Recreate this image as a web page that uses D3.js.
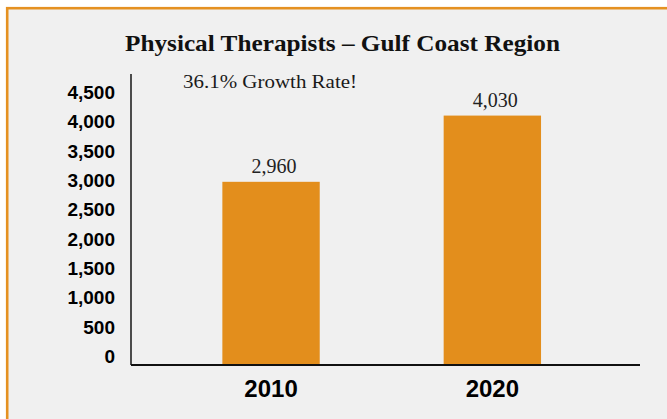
<!DOCTYPE html>
<html>
<head>
<meta charset="utf-8">
<script src="https://cdn.jsdelivr.net/npm/d3@7"></script>
<style>
  html, body { margin: 0; padding: 0; background: #ffffff; }
  svg { display: block; }
</style>
</head>
<body>
<div id="chart-area"></div>
<script>
// chart data
let chartTitle = "Physical Therapists \u2013 Gulf Coast Region";
let growthNote = "36.1% Growth Rate!";
let years = ["2010", "2020"];
let therapists = [2960, 4030];
let tickValues = [0, 500, 1000, 1500, 2000, 2500, 3000, 3500, 4000, 4500];

let width = 667,
	height = 419;

let margin = {top: 86.5, bottom: 365, left: 131, right: 640};

let svg = d3.select("#chart-area").append("svg")
	.attr("width", width)
	.attr("height", height);

// orange frame (runs past the right / bottom edges)
svg.append("rect")
	.attr("x", 7.2)
	.attr("y", 8.2)
	.attr("width", width + 20)
	.attr("height", height + 20)
	.attr("fill", "#f0f0f0")
	.attr("stroke", "#e59121")
	.attr("stroke-width", 2.6);

let xScale = d3.scaleBand()
	.domain(years)
	.range([margin.left, margin.right])
	.paddingInner(0.56)
	.paddingOuter(0.43)
	.align(0.48);

let yScale = d3.scaleLinear()
	.domain([0, 4500])
	.range([margin.bottom, margin.top]);

// tick labels sit on their own evenly spaced rows
let labelScale = d3.scaleLinear()
	.domain([0, 4500])
	.range([355.5, 91.7]);

// bars
svg.selectAll("rect.bar")
	.data(therapists)
	.enter()
	.append("rect")
	.attr("class", "bar")
	.attr("fill", "#e38e1c")
	.attr("x", (d, i) => xScale(years[i]))
	.attr("width", xScale.bandwidth())
	.attr("y", d => yScale(d))
	.attr("height", d => yScale(0) - yScale(d));

// value labels
svg.selectAll("text.value")
	.data(therapists)
	.enter()
	.append("text")
	.attr("class", "value")
	.attr("x", (d, i) => xScale(years[i]) + xScale.bandwidth() / 2 + 3)
	.attr("y", d => yScale(d) - 9)
	.attr("text-anchor", "middle")
	.style("font-family", "'Liberation Serif', 'DejaVu Serif', serif")
	.style("font-size", "20px")
	.style("fill", "#222")
	.text(d => d3.format(",")(d));

// y tick labels
let yaxis = d3.axisLeft()
	.scale(labelScale)
	.tickValues(tickValues)
	.tickSize(0)
	.tickPadding(0)
	.tickFormat(d3.format(","));

let yAxisG = svg.append("g")
	.attr("class", "y-axis axis")
	.attr("transform", "translate(115,0)")
	.call(yaxis);
yAxisG.select(".domain").remove();
yAxisG.selectAll("text")
	.attr("dy", "0.36em")
	.style("font-family", "'Liberation Sans', Arial, sans-serif")
	.style("font-weight", "bold")
	.style("font-size", "19px")
	.style("fill", "#000");

// x category labels
let xaxis = d3.axisBottom()
	.scale(xScale)
	.tickSize(0)
	.tickPadding(0);

let xAxisG = svg.append("g")
	.attr("class", "x-axis axis")
	.attr("transform", "translate(0," + margin.bottom + ")")
	.call(xaxis);
xAxisG.select(".domain").remove();
xAxisG.selectAll("text")
	.attr("y", 32)
	.attr("dy", 0)
	.style("font-family", "'Liberation Sans', Arial, sans-serif")
	.style("font-weight", "bold")
	.style("font-size", "24px")
	.style("fill", "#000");

// axis lines
svg.append("line")
	.attr("x1", margin.left).attr("x2", margin.left)
	.attr("y1", 74).attr("y2", yScale(0))
	.attr("stroke", "#222")
	.attr("stroke-width", 1.6);

svg.append("line")
	.attr("x1", margin.left).attr("x2", margin.right)
	.attr("y1", yScale(0)).attr("y2", yScale(0))
	.attr("stroke", "#111")
	.attr("stroke-width", 1.8);

// title
svg.append("text")
	.attr("x", 342.5)
	.attr("y", 51)
	.attr("text-anchor", "middle")
	.attr("textLength", 435)
	.attr("lengthAdjust", "spacingAndGlyphs")
	.style("font-family", "'Liberation Serif', 'DejaVu Serif', serif")
	.style("font-weight", "bold")
	.style("font-size", "24px")
	.style("fill", "#111")
	.text(chartTitle);

// growth annotation
svg.append("text")
	.attr("x", 183)
	.attr("y", 88)
	.attr("textLength", 174)
	.attr("lengthAdjust", "spacingAndGlyphs")
	.style("font-family", "'Liberation Serif', 'DejaVu Serif', serif")
	.style("font-size", "18px")
	.style("fill", "#1a1a1a")
	.text(growthNote);
</script>
</body>
</html>
